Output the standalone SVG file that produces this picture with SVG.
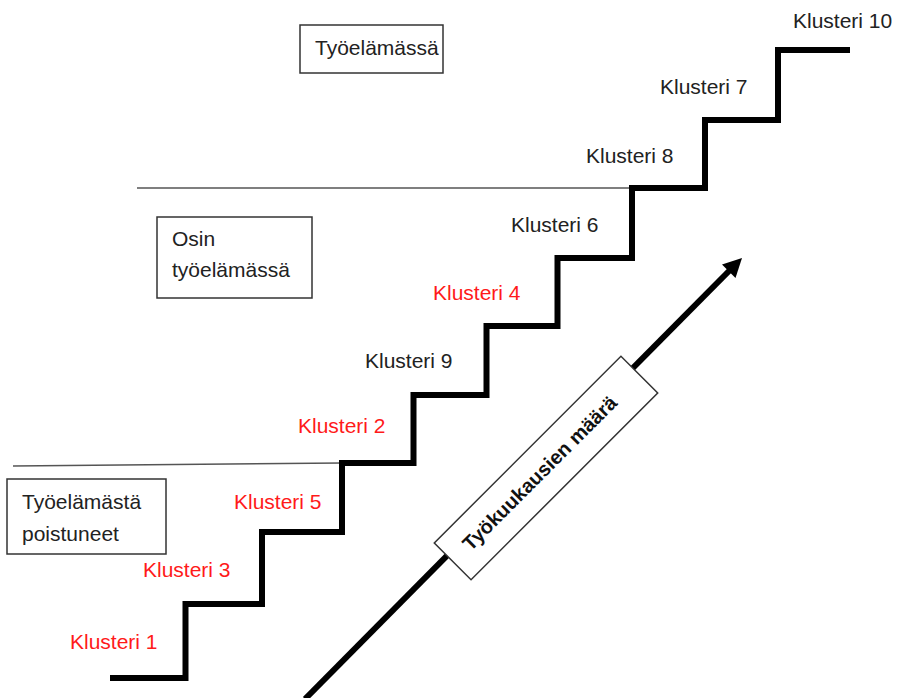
<svg xmlns="http://www.w3.org/2000/svg" width="897" height="698" viewBox="0 0 897 698">
<style>
text{font-family:"Liberation Sans",Arial,sans-serif;font-size:21px;fill:#222}
.red{fill:#ff1a1a}
.box{fill:#fff;stroke:#333;stroke-width:1.5}
.thin{stroke:#555;stroke-width:1.5;fill:none}
.stair{stroke:#000;stroke-width:6;fill:none;stroke-linejoin:miter;stroke-linecap:butt}
</style>
<rect width="897" height="698" fill="#fff"/>
<g id="connectors">
<line class="thin" x1="137" y1="188" x2="632" y2="188"/>
<line class="thin" x1="13" y1="466" x2="342" y2="463"/>
<path class="stair" d="M110,678 H185.5 V604 H262 V532 H342 V463 H413.5 V395 H486.5 V326 H557.5 V258 H632 V188 H705 V120 H778 V50 H850"/>
<line x1="305" y1="699" x2="731" y2="269" stroke="#000" stroke-width="6"/>
<polygon points="742,258 735.5,278 722,264.5" fill="#000"/>
</g>
<g id="n-tyoelamassa">
<rect class="box" x="300" y="25" width="143" height="48"/>
<text x="315" y="55">Työelämässä</text>
</g>
<g id="n-osin">
<rect class="box" x="157" y="217" width="155" height="81"/>
<text x="172" y="246">Osin</text>
<text x="172" y="277">työelämässä</text>
</g>
<g id="n-poistuneet">
<rect class="box" x="7" y="479" width="159" height="75"/>
<text x="22" y="509">Työelämästä</text>
<text x="22" y="541">poistuneet</text>
</g>
<g id="n-axis" transform="translate(546,468) rotate(-45)">
<rect class="box" x="-132" y="-26" width="264" height="52"/>
<text x="-8" y="6" text-anchor="middle" style="font-weight:bold;font-size:20px;fill:#111">Työkuukausien määrä</text>
</g>
<g id="k10"><text x="793" y="28">Klusteri 10</text></g>
<g id="k7"><text x="660" y="94">Klusteri 7</text></g>
<g id="k8"><text x="586" y="163">Klusteri 8</text></g>
<g id="k6"><text x="511" y="232">Klusteri 6</text></g>
<g id="k4"><text class="red" x="433" y="300">Klusteri 4</text></g>
<g id="k9"><text x="365" y="368">Klusteri 9</text></g>
<g id="k2"><text class="red" x="298" y="433">Klusteri 2</text></g>
<g id="k5"><text class="red" x="234" y="509">Klusteri 5</text></g>
<g id="k3"><text class="red" x="143" y="577">Klusteri 3</text></g>
<g id="k1"><text class="red" x="70" y="649">Klusteri 1</text></g>
</svg>
